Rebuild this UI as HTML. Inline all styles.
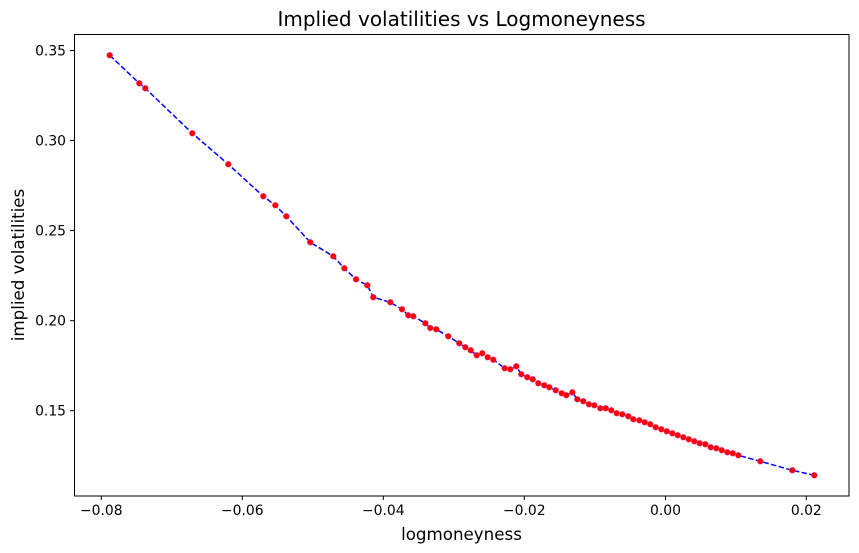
<!DOCTYPE html>
<html><head><meta charset="utf-8"><style>
html,body{margin:0;padding:0;background:#fff;}
svg{display:block;font-family:"DejaVu Sans","Liberation Sans",sans-serif;}
</style></head><body>
<svg width="859" height="553" viewBox="0 0 859 553" xmlns="http://www.w3.org/2000/svg">
<rect width="859" height="553" fill="#fff"/>
<text x="461.5" y="26" font-size="20" text-anchor="middle" fill="#000">Implied volatilities vs Logmoneyness</text>
<g stroke="#000" stroke-width="1">
<line x1="101.3" y1="496" x2="101.3" y2="500"/><line x1="242.3" y1="496" x2="242.3" y2="500"/>
<line x1="383.3" y1="496" x2="383.3" y2="500"/><line x1="524.3" y1="496" x2="524.3" y2="500"/>
<line x1="665.5" y1="496" x2="665.5" y2="500"/><line x1="806.3" y1="496" x2="806.3" y2="500"/>
<line x1="70" y1="50.5" x2="74" y2="50.5"/><line x1="70" y1="140.5" x2="74" y2="140.5"/>
<line x1="70" y1="230.5" x2="74" y2="230.5"/><line x1="70" y1="320.7" x2="74" y2="320.7"/>
<line x1="70" y1="410.7" x2="74" y2="410.7"/>
</g>
<g font-size="13.9" fill="#000" text-anchor="middle">
<text x="101.3" y="515">−0.08</text><text x="242.3" y="515">−0.06</text><text x="383.3" y="515">−0.04</text>
<text x="524.3" y="515">−0.02</text><text x="665.5" y="515">0.00</text><text x="806.3" y="515">0.02</text>
</g>
<g font-size="13.9" fill="#000" text-anchor="end">
<text x="66" y="55.5">0.35</text><text x="66" y="145.5">0.30</text><text x="66" y="235.5">0.25</text>
<text x="66" y="325.7">0.20</text><text x="66" y="415.7">0.15</text>
</g>
<text x="461.5" y="540" font-size="16.7" text-anchor="middle">logmoneyness</text>
<text transform="translate(24,265) rotate(-90)" font-size="16.7" text-anchor="middle">implied volatilities</text>
<polyline fill="none" stroke="#0000ff" stroke-width="1.5" stroke-dasharray="5.5,2.4" points="109.7,55.3 139.3,83.3 145.3,88.3 192.3,133.3 228.3,164.3 263.3,196.3 275.3,205.3 286.3,216.3 310.3,242.3 333.3,256.3 344.3,268.3 356,279.3 367.3,285.3 373.3,297.3 390.3,302.3 402,309.3 408.3,315.3 413.3,316.3 425.3,323.3 430.3,328 436.3,329.3 448.3,336.3 459.3,343.3 465.3,347.3 470.7,350.3 476.7,355.3 482.3,353.3 487.7,357.3 493.3,359.7 504.7,368.3 510.3,369.3 516.3,366.3 521.3,374.3 527.3,377.3 532.7,379.3 538.3,383.3 544.3,385.3 549.3,387.3 555.7,390.3 561.7,393.3 566.3,395.3 572.3,392.3 577.3,399.3 583.3,401.3 589,404.3 594.3,405.3 600.3,408.3 605.7,408.3 611.3,410.3 616.7,413.3 622.3,414.3 628.3,416.3 633.3,419.3 639.3,420.3 644.7,422.3 650.3,424.3 655.7,427.3 661.3,429.3 666.7,431.3 672.3,433.3 677.7,435.3 683.3,437.3 688.7,439.3 694.3,441.3 699.7,443.3 705.3,444.3 710.7,447.3 716.3,448.3 721.7,450.3 727.3,452.3 732.7,453.3 738.3,455.3 760.3,461.3 792.3,470.3 814.3,475.3"/>
<g id="pts" fill="#ff0000" stroke="#d060d0" stroke-width="0.4">
<circle cx="109.7" cy="55.3" r="3"/><circle cx="139.3" cy="83.3" r="3"/><circle cx="145.3" cy="88.3" r="3"/><circle cx="192.3" cy="133.3" r="3"/><circle cx="228.3" cy="164.3" r="3"/><circle cx="263.3" cy="196.3" r="3"/><circle cx="275.3" cy="205.3" r="3"/><circle cx="286.3" cy="216.3" r="3"/><circle cx="310.3" cy="242.3" r="3"/><circle cx="333.3" cy="256.3" r="3"/><circle cx="344.3" cy="268.3" r="3"/><circle cx="356" cy="279.3" r="3"/><circle cx="367.3" cy="285.3" r="3"/><circle cx="373.3" cy="297.3" r="3"/><circle cx="390.3" cy="302.3" r="3"/><circle cx="402" cy="309.3" r="3"/><circle cx="408.3" cy="315.3" r="3"/><circle cx="413.3" cy="316.3" r="3"/><circle cx="425.3" cy="323.3" r="3"/><circle cx="430.3" cy="328" r="3"/><circle cx="436.3" cy="329.3" r="3"/><circle cx="448.3" cy="336.3" r="3"/><circle cx="459.3" cy="343.3" r="3"/><circle cx="465.3" cy="347.3" r="3"/><circle cx="470.7" cy="350.3" r="3"/><circle cx="476.7" cy="355.3" r="3"/><circle cx="482.3" cy="353.3" r="3"/><circle cx="487.7" cy="357.3" r="3"/><circle cx="493.3" cy="359.7" r="3"/><circle cx="504.7" cy="368.3" r="3"/><circle cx="510.3" cy="369.3" r="3"/><circle cx="516.3" cy="366.3" r="3"/><circle cx="521.3" cy="374.3" r="3"/><circle cx="527.3" cy="377.3" r="3"/><circle cx="532.7" cy="379.3" r="3"/><circle cx="538.3" cy="383.3" r="3"/><circle cx="544.3" cy="385.3" r="3"/><circle cx="549.3" cy="387.3" r="3"/><circle cx="555.7" cy="390.3" r="3"/><circle cx="561.7" cy="393.3" r="3"/><circle cx="566.3" cy="395.3" r="3"/><circle cx="572.3" cy="392.3" r="3"/><circle cx="577.3" cy="399.3" r="3"/><circle cx="583.3" cy="401.3" r="3"/><circle cx="589" cy="404.3" r="3"/><circle cx="594.3" cy="405.3" r="3"/><circle cx="600.3" cy="408.3" r="3"/><circle cx="605.7" cy="408.3" r="3"/><circle cx="611.3" cy="410.3" r="3"/><circle cx="616.7" cy="413.3" r="3"/><circle cx="622.3" cy="414.3" r="3"/><circle cx="628.3" cy="416.3" r="3"/><circle cx="633.3" cy="419.3" r="3"/><circle cx="639.3" cy="420.3" r="3"/><circle cx="644.7" cy="422.3" r="3"/><circle cx="650.3" cy="424.3" r="3"/><circle cx="655.7" cy="427.3" r="3"/><circle cx="661.3" cy="429.3" r="3"/><circle cx="666.7" cy="431.3" r="3"/><circle cx="672.3" cy="433.3" r="3"/><circle cx="677.7" cy="435.3" r="3"/><circle cx="683.3" cy="437.3" r="3"/><circle cx="688.7" cy="439.3" r="3"/><circle cx="694.3" cy="441.3" r="3"/><circle cx="699.7" cy="443.3" r="3"/><circle cx="705.3" cy="444.3" r="3"/><circle cx="710.7" cy="447.3" r="3"/><circle cx="716.3" cy="448.3" r="3"/><circle cx="721.7" cy="450.3" r="3"/><circle cx="727.3" cy="452.3" r="3"/><circle cx="732.7" cy="453.3" r="3"/><circle cx="738.3" cy="455.3" r="3"/><circle cx="760.3" cy="461.3" r="3"/><circle cx="792.3" cy="470.3" r="3"/><circle cx="814.3" cy="475.3" r="3"/>
</g>
<rect x="74.5" y="34.5" width="774.5" height="461.5" fill="none" stroke="#000" stroke-width="1"/>
</svg>
</body></html>
